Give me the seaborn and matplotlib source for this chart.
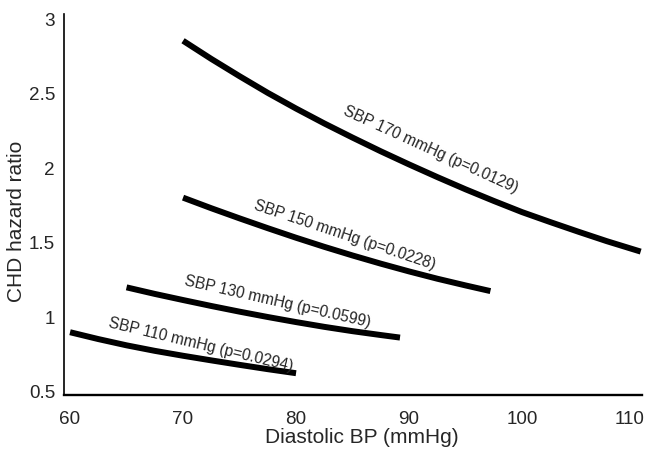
import pandas as pd
import seaborn as sns
import matplotlib.pyplot as plt
import matplotlib.transforms as mtransforms

# values
dbp_170 = [70, 72.5, 75, 77.5, 80, 82.5, 85, 87.5, 90, 92.5, 95, 97.5, 100,
           102.5, 105, 107.5, 110.5]
hr_170 = [2.85, 2.728, 2.612, 2.50, 2.395, 2.295, 2.20, 2.108, 2.02, 1.935,
          1.853, 1.775, 1.70, 1.633, 1.568, 1.505, 1.435]

dbp_150 = [70, 72.5, 75, 77.5, 80, 82.5, 85, 87.5, 90, 92.5, 95, 97.2]
hr_150 = [1.797, 1.726, 1.658, 1.592, 1.528, 1.467, 1.409, 1.354, 1.302,
          1.253, 1.208, 1.170]

dbp_130 = [65, 67.5, 70, 72.5, 75, 77.5, 80, 82.5, 85, 87.5, 89.2]
hr_130 = [1.195, 1.151, 1.110, 1.070, 1.032, 0.996, 0.962, 0.930, 0.901,
          0.875, 0.858]

dbp_110 = [60, 62.5, 65, 67.5, 70, 72.5, 75, 77.5, 80]
hr_110 = [0.894, 0.848, 0.806, 0.769, 0.736, 0.705, 0.675, 0.646, 0.619]

labels = ["SBP 170 mmHg (p=0.0129)", "SBP 150 mmHg (p=0.0228)",
          "SBP 130 mmHg (p=0.0599)", "SBP 110 mmHg (p=0.0294)"]

frames = []
for lab, xs, ys in zip(labels, [dbp_170, dbp_150, dbp_130, dbp_110],
                       [hr_170, hr_150, hr_130, hr_110]):
    frames.append(pd.DataFrame({"dbp": xs, "hr": ys, "curve": lab}))
df = pd.concat(frames, ignore_index=True)

sns.set_style("white")
plt.rcParams['font.family'] = ['Liberation Sans', 'DejaVu Sans']

fig = plt.figure(figsize=(6.47, 4.52), dpi=100)
ax = fig.add_axes([0.099, 0.124, 0.893, 0.843])

sns.lineplot(data=df, x="dbp", y="hr", hue="curve", palette=["black"] * 4,
             linewidth=4.3, legend=False, ax=ax, sort=True,
             solid_capstyle="butt", solid_joinstyle="round")

# curve labels (centre x, centre y, rotation)
label_pos = [(91.9, 2.124, -24.5), (84.3, 1.554, -18.5),
             (78.4, 1.106, -12.8), (71.6, 0.815, -13.5)]
for lab, (tx, ty, rot) in zip(labels, label_pos):
    ax.text(tx, ty, lab, rotation=rot, ha="center", va="center",
            fontsize=11.2, rotation_mode="anchor")

ax.set_xlim(59.47, 110.6)
ax.set_ylim(0.473, 3.03)
ax.set_xticks([60, 70, 80, 90, 100, 110])
ax.set_yticks([0.5, 1, 1.5, 2, 2.5, 3])
ax.set_yticklabels(["0.5", "1", "1.5", "2", "2.5", "3"])
ax.tick_params(axis="both", length=0, labelsize=13.6)
ax.tick_params(axis="x", pad=10.5)
ax.tick_params(axis="y", pad=6.5)

# last x label sits a little left in the original
lbl = ax.get_xticklabels()[-1]
lbl.set_transform(lbl.get_transform() +
                  mtransforms.ScaledTranslation(-4 / 72, 0, fig.dpi_scale_trans))

ax.set_xlabel("Diastolic BP (mmHg)", fontsize=15)
ax.set_ylabel("CHD hazard ratio", fontsize=15)
ax.xaxis.set_label_coords(0.515, -0.085)
ax.yaxis.set_label_coords(-0.066, 0.457)

ax.spines["top"].set_visible(False)
ax.spines["right"].set_visible(False)
ax.spines["left"].set_linewidth(1.2)
ax.spines["bottom"].set_linewidth(1.7)
ax.spines["left"].set_color("black")
ax.spines["bottom"].set_color("black")

fig.savefig("out.png", dpi=100)
